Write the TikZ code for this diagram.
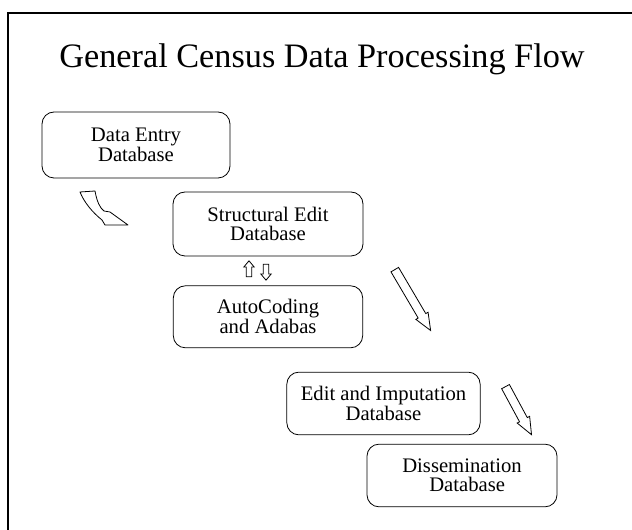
\documentclass[tikz,border=0pt]{standalone}
\usepackage{fontspec}
\setmainfont{Liberation Serif}
\usepackage{tikz}
\usetikzlibrary{positioning, shapes.arrows}

\tikzset{
  dbbox/.style={draw, line width=0.6pt, rounded corners=9pt, align=center,
    inner sep=2pt, minimum width=142pt, minimum height=48pt,
    font=\fontsize{15.5}{14}\selectfont},
  blockarrow/.style={draw, line width=0.6pt, single arrow, inner sep=3pt,
    single arrow head extend=2pt, single arrow tip angle=45}
}

\begin{document}
\begin{tikzpicture}[x=0.75pt, y=-0.75pt]
\useasboundingbox (0,0) rectangle (632,530);
% frame
\draw[line width=1.5pt] (632,13) -- (8,13) -- (8,530);
\node[anchor=base, font=\fontsize{25.7}{30}\selectfont] (title) at (322,68) {General Census Data Processing Flow};

% databases
\node[dbbox, minimum width=141pt, minimum height=49.5pt] (entry) at (136,145) {Data Entry\\Database};
\node[dbbox, minimum width=142.5pt] (struct) at (268,224) {Structural Edit\\Database};
\node[dbbox, minimum height=46.5pt, below=21.75pt of struct] (auto) {AutoCoding\\and Adabas};
\node[dbbox, minimum width=145pt, minimum height=47pt] (edit) at (383.5,403.5) {Edit and Imputation\\Database};
\node[dbbox, minimum width=142.5pt, minimum height=47pt] (diss) at (462,475.5) {Dissemination\\\ \ Database};

% flow arrows
\draw[line width=0.6pt, line join=round] (80,192) -- (95,191) .. controls (97,202) and (100,208) .. (104,211)
  -- (110,212) -- (128,225) -- (105,225) -- (102,220) .. controls (92,212) and (84,202) .. cycle;
\node[blockarrow, minimum height=53pt, rotate=-59.5] (flowA) at (410,295.5) {};
\node[blockarrow, minimum height=41pt, rotate=-61.6] (flowB) at (516,406) {};

% struct <-> autocoding
\node[blockarrow, inner sep=1.8pt, single arrow head extend=1.8pt, single arrow tip angle=80,
  minimum height=12pt, rotate=90] (up) at (249,270.5) {};
\node[blockarrow, inner sep=1.8pt, single arrow head extend=1.8pt, single arrow tip angle=80,
  minimum height=12pt, rotate=-90] (down) at (266,270.5) {};
\end{tikzpicture}
\end{document}
